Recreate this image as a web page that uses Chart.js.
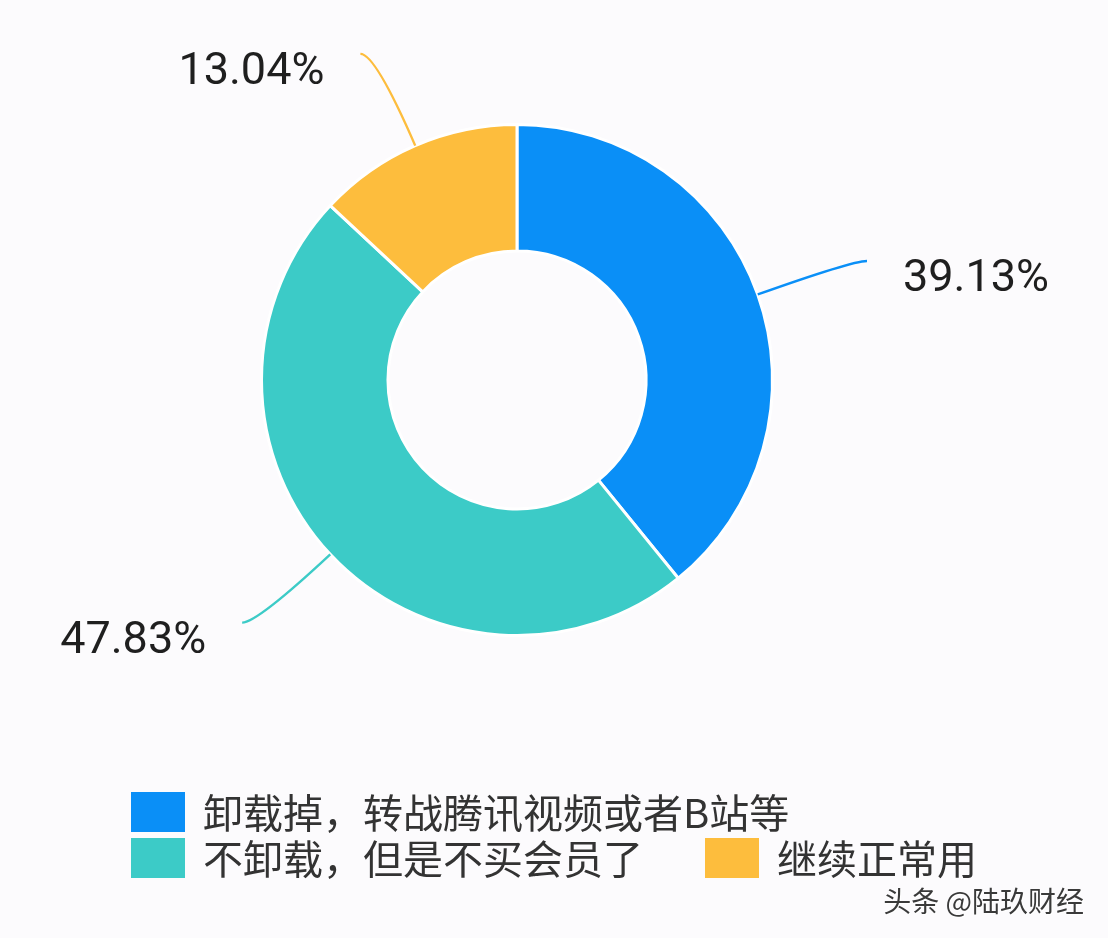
<!DOCTYPE html>
<html>
<head>
<meta charset="utf-8">
<title>卸载掉还是继续用</title>
<script src="https://cdn.jsdelivr.net/npm/chart.js@4/dist/chart.umd.min.js"></script>
<style>
    html, body { margin: 0; padding: 0; background: #fcfbfd; }
    #wrap { width: 1108px; height: 938px; position: relative; }
</style>
</head>
<body>
<div id="wrap"><canvas id="pie"></canvas></div>
<script>
const labels = ["卸载掉，转战腾讯视频或者B站等", "不卸载，但是不买会员了", "继续正常用"];
const values = [39.13, 47.83, 13.04];
const colors = ["#0a8ff7", "#3ccbc7", "#fdbd3d"];
const legendRows = [[0], [1, 2]];
const watermark = "头条 @陆玖财经";

const BG = "#fcfbfd";

// leader lines + percent text, from each arc's own geometry
const leaderLabels = {
    id: "leaderLabels",
    afterDatasetsDraw(chart) {
        const ctx = chart.ctx;
        const meta = chart.getDatasetMeta(0);
        ctx.save();
        meta.data.forEach((arc, i) => {
            const p = arc.getProps(["x", "y", "startAngle", "endAngle", "outerRadius"], true);
            const a = (p.startAngle + p.endAngle) / 2;
            const cos = Math.cos(a), sin = Math.sin(a);
            const x0 = p.x + cos * p.outerRadius;
            const y0 = p.y + sin * p.outerRadius;
            const x1 = x0 + cos * 100;
            const y1 = y0 + sin * 100;
            const side = cos >= 0 ? 1 : -1;
            const x2 = x1 + side * 15;
            const y2 = y1;

            ctx.beginPath();
            ctx.moveTo(x0, y0);
            ctx.quadraticCurveTo(x1, y1, x2, y2);
            ctx.strokeStyle = colors[i];
            ctx.lineWidth = 2.4;
            ctx.stroke();

            ctx.fillStyle = "#1f1f1f";
            ctx.font = "45px Roboto, 'Noto Sans', sans-serif";
            ctx.textBaseline = "alphabetic";
            ctx.textAlign = side > 0 ? "left" : "right";
            ctx.fillText(values[i].toFixed(2) + "%", x2 + side * 36, y2 + 30);
        });
        ctx.restore();
    }
};

// legend drawn by hand so the two rows sit like the original
const bottomLegend = {
    id: "bottomLegend",
    afterDraw(chart) {
        const ctx = chart.ctx;
        ctx.save();
        ctx.font = "40px 'Noto Sans CJK SC', sans-serif";
        ctx.textBaseline = "middle";
        ctx.textAlign = "left";
        legendRows.forEach((row, r) => {
            let x = 131;
            const y = 792 + r * 46;
            row.forEach(i => {
                ctx.fillStyle = colors[i];
                ctx.fillRect(x, y, 54, 40);
                ctx.fillStyle = "#333";
                ctx.fillText(labels[i], x + 72, y + 21);
                x += 72 + ctx.measureText(labels[i]).width + 62;
            });
        });

        ctx.font = "28px 'Noto Sans CJK SC', sans-serif";
        ctx.textAlign = "right";
        ctx.textBaseline = "alphabetic";
        ctx.fillStyle = "#fff";
        ctx.fillText(watermark, 1085, 913);
        ctx.fillStyle = "#3a3a3a";
        ctx.fillText(watermark, 1084, 912);
        ctx.restore();
    }
};

const bgFill = {
    id: "bgFill",
    beforeDraw(chart) {
        const ctx = chart.ctx;
        ctx.save();
        ctx.fillStyle = BG;
        ctx.fillRect(0, 0, chart.width, chart.height);
        ctx.restore();
    }
};

new Chart(document.getElementById("pie"), {
    type: "doughnut",
    data: {
        labels,
        datasets: [{
            data: values,
            backgroundColor: colors,
            borderColor: "#ffffff",
            borderWidth: 3,
        }],
    },
    options: {
        responsive: true,
        maintainAspectRatio: false,
        animation: false,
        cutout: "50.5%",
        layout: { padding: { top: 123, bottom: 301, left: 260, right: 334 } },
        plugins: {
            legend: { display: false },
            tooltip: { enabled: false },
        },
    },
    plugins: [bgFill, leaderLabels, bottomLegend],
});
</script>
</body>
</html>
